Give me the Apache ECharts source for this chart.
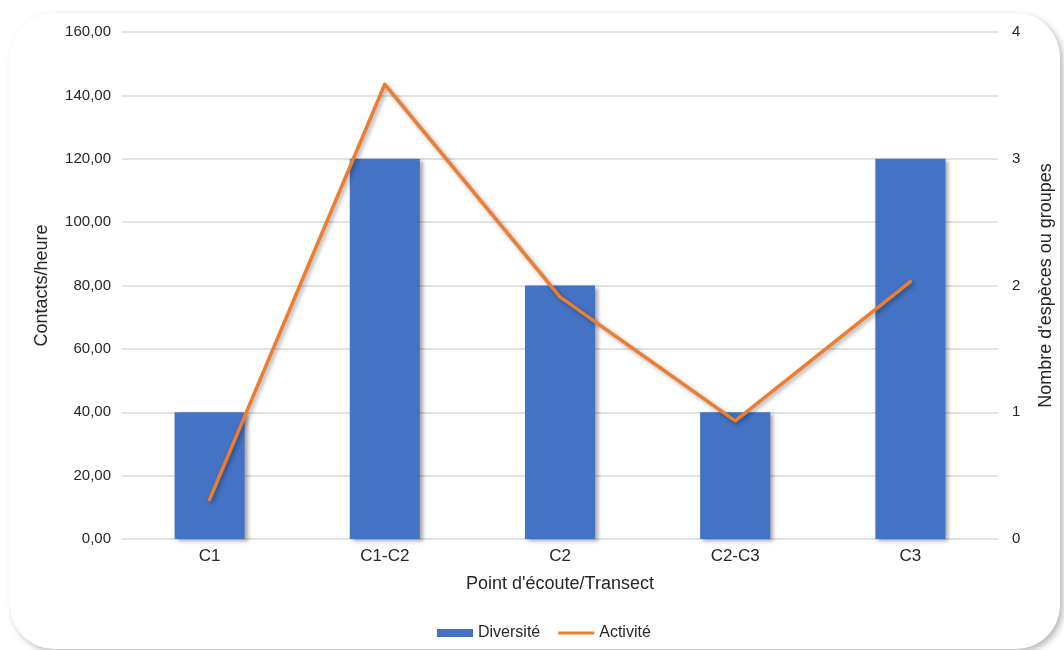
<!DOCTYPE html>
<html>
<head>
<meta charset="utf-8">
<script src="https://cdn.jsdelivr.net/npm/echarts@6/dist/echarts.min.js"></script>
<style>
  html, body { margin: 0; padding: 0; background: #ffffff; }
  #card {
    position: absolute; left: 10px; top: 13px; width: 1050px; height: 636px;
    background: #ffffff; border-radius: 44px;
    box-shadow: 3px 3px 6px rgba(0,0,0,0.28);
  }
  #chart { position: absolute; left: 0; top: 0; width: 1064px; height: 650px; }
</style>
</head>
<body>
<div id="card"></div>
<div id="chart"></div>
<script>
// Survey points along the route
const categories = ['C1', 'C1-C2', 'C2', 'C2-C3', 'C3'];
// Number of species or groups (right axis)
const diversite = [1, 3, 2, 1, 3];
// Contacts per hour (left axis)
const activite = [12.5, 143.5, 76.4, 37.3, 81.2];

const fontFam = '"Liberation Sans", Arial, sans-serif';
const txt = '#262626';
const fmt = v => v.toFixed(2).replace('.', ',');

const chart = echarts.init(document.getElementById('chart'));
chart.setOption({
  backgroundColor: 'transparent',
  textStyle: { fontFamily: fontFam },
  grid: { left: 122, right: 66, top: 32, bottom: 111 },
  legend: {
    top: 620,
    left: 432,
    itemWidth: 36,
    itemHeight: 8,
    itemGap: 18,
    textStyle: { fontFamily: fontFam, fontSize: 16, color: txt },
    data: [
      { name: 'Diversité', icon: 'rect' },
      { name: 'Activité', icon: 'path://M0,0 H36 V3.2 H0 Z' }
    ]
  },
  xAxis: {
    type: 'category',
    data: categories,
    name: "Point d'écoute/Transect",
    nameLocation: 'middle',
    nameGap: 36,
    nameTextStyle: { fontFamily: fontFam, fontSize: 18, color: txt },
    axisLine: { show: false },
    axisTick: { show: false },
    axisLabel: { fontFamily: fontFam, fontSize: 17, color: txt, margin: 9 }
  },
  yAxis: [
    {
      type: 'value', min: 0, max: 160, interval: 20,
      name: 'Contacts/heure',
      nameLocation: 'middle', nameRotate: 90, nameGap: 71,
      nameTextStyle: { fontFamily: fontFam, fontSize: 18, color: txt },
      axisLabel: { formatter: fmt, fontFamily: fontFam, fontSize: 15, color: txt, margin: 11 },
      axisLine: { show: false }, axisTick: { show: false },
      splitLine: { lineStyle: { color: '#d9d9d9', width: 1.5 } }
    },
    {
      type: 'value', min: 0, max: 4, interval: 1,
      name: "Nombre d'espèces ou groupes",
      nameLocation: 'middle', nameRotate: 90, nameGap: 39,
      nameTextStyle: { fontFamily: fontFam, fontSize: 18, color: txt },
      axisLabel: { fontFamily: fontFam, fontSize: 15, color: txt, margin: 14 },
      axisLine: { show: false }, axisTick: { show: false },
      splitLine: { show: false }
    }
  ],
  series: [
    {
      name: 'Diversité',
      type: 'bar',
      yAxisIndex: 1,
      data: diversite,
      barWidth: '40%',
      itemStyle: {
        color: '#4472C4',
        shadowColor: 'rgba(0,0,0,0.35)', shadowBlur: 4, shadowOffsetX: 3, shadowOffsetY: 2
      }
    },
    {
      name: 'Activité',
      type: 'line',
      yAxisIndex: 0,
      data: activite,
      symbol: 'none',
      itemStyle: { color: '#ED7D31' },
      lineStyle: {
        color: '#ED7D31', width: 3.5, cap: 'round', join: 'round',
        shadowColor: 'rgba(0,0,0,0.35)', shadowBlur: 4, shadowOffsetX: 2, shadowOffsetY: 2
      }
    }
  ]
});
</script>
</body>
</html>
